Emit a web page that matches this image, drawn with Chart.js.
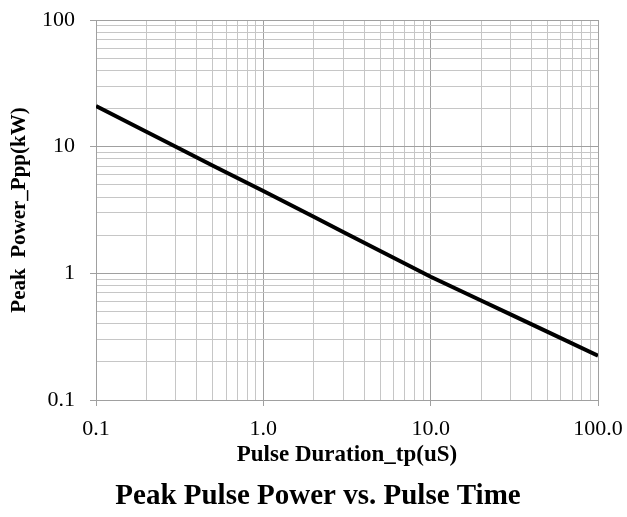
<!DOCTYPE html>
<html>
<head>
<meta charset="utf-8">
<script src="https://cdn.jsdelivr.net/npm/chart.js@4/dist/chart.umd.min.js"></script>
<style>
  html, body { margin: 0; padding: 0; background: #ffffff; }
  canvas { display: block; }
</style>
</head>
<body>
<canvas id="c" width="627" height="517"></canvas>
<script>
// ---- data ----
const pulseDuration = [0.1, 0.2, 0.3, 0.5, 1, 2, 3, 5, 10, 20, 30, 50, 100];
const peakPower     = [20.9, 13.1, 10.0, 7.08, 4.47, 2.80, 2.12, 1.50, 0.94, 0.61, 0.474, 0.345, 0.224];

const xMajorTicks  = [0.1, 1, 10, 100];
const xTickLabels  = ['0.1', '1.0', '10.0', '100.0'];
const yMajorTicks  = [0.1, 1, 10, 100];
const yTickLabels  = ['0.1', '1', '10', '100'];

const chartTitle = 'Peak Pulse Power vs. Pulse Time';
const xTitle = 'Pulse Duration_tp(uS)';
const yTitle = 'Peak  Power_Ppp(kW)';

// ---- helpers ----
function decadeTicks(majors) {
  const out = [];
  for (let i = 0; i < majors.length - 1; i++) {
    for (let m = 1; m <= 9; m++) out.push(+(majors[i] * m).toPrecision(6));
  }
  out.push(majors[majors.length - 1]);
  return out;
}
function isMajor(v, majors) {
  return majors.some(m => Math.abs(v - m) / m < 1e-6);
}
function labelFor(v, majors, labels) {
  const i = majors.findIndex(m => Math.abs(v - m) / m < 1e-6);
  return i >= 0 ? labels[i] : '';
}

const FONT = "'Liberation Serif', 'Times New Roman', serif";
const MAJOR = '#a0a0a0';
const MINOR = '#c6c6c6';

new Chart(document.getElementById('c'), {
  type: 'line',
  data: {
    datasets: [{
      data: pulseDuration.map((x, i) => ({ x: x, y: peakPower[i] })),
      borderColor: '#000000',
      borderWidth: 4,
      pointRadius: 0,
      tension: 0,
      fill: false
    }]
  },
  options: {
    responsive: false,
    devicePixelRatio: 1,
    animation: false,
    layout: { padding: { left: 38, right: 29, top: 20, bottom: 3 } },
    plugins: {
      legend: { display: false },
      tooltip: { enabled: false },
      title: {
        display: true,
        position: 'bottom',
        text: chartTitle,
        color: '#000000',
        font: { family: FONT, size: 29, weight: 'bold' },
        padding: { top: 0, bottom: 0 }
      }
    },
    scales: {
      x: {
        type: 'logarithmic',
        min: 0.1,
        max: 100,
        afterBuildTicks: s => { s.ticks = decadeTicks(xMajorTicks).map(v => ({ value: v })); },
        afterFit: s => { s.height = 79.2; s.paddingLeft = 0; s.paddingRight = 0; s.paddingTop = 0; s.paddingBottom = 0; },
        ticks: {
          autoSkip: false,
          maxRotation: 0,
          minRotation: 0,
          padding: 10,
          color: '#000000',
          font: { family: FONT, size: 22 },
          callback: v => labelFor(v, xMajorTicks, xTickLabels)
        },
        grid: {
          color: ctx => (ctx.tick && isMajor(ctx.tick.value, xMajorTicks)) ? MAJOR : MINOR,
          tickColor: ctx => (ctx.tick && isMajor(ctx.tick.value, xMajorTicks)) ? MAJOR : 'rgba(0,0,0,0)',
          tickLength: 6,
          lineWidth: 1
        },
        border: { color: MAJOR, width: 1 },
        title: {
          display: true,
          text: xTitle,
          color: '#000000',
          font: { family: FONT, size: 23, weight: 'bold' },
          padding: { top: 0, bottom: 10.4 }
        }
      },
      y: {
        type: 'logarithmic',
        min: 0.1,
        max: 100,
        afterBuildTicks: s => { s.ticks = decadeTicks(yMajorTicks).map(v => ({ value: v })); },
        afterFit: s => { s.width = 58; s.paddingLeft = 0; s.paddingRight = 0; s.paddingTop = 0; s.paddingBottom = 0; },
        ticks: {
          autoSkip: false,
          padding: 15,
          color: '#000000',
          font: { family: FONT, size: 22 },
          callback: v => labelFor(v, yMajorTicks, yTickLabels)
        },
        grid: {
          color: ctx => (ctx.tick && isMajor(ctx.tick.value, yMajorTicks)) ? MAJOR : MINOR,
          tickColor: ctx => (ctx.tick && isMajor(ctx.tick.value, yMajorTicks)) ? MAJOR : 'rgba(0,0,0,0)',
          tickLength: 6,
          lineWidth: 1
        },
        border: { color: MAJOR, width: 1 },
        title: {
          display: true,
          text: yTitle,
          color: '#000000',
          font: { family: FONT, size: 21, weight: 'bold' },
          padding: { top: -30.6, bottom: 0 }
        }
      }
    }
  }
});
</script>
</body>
</html>
